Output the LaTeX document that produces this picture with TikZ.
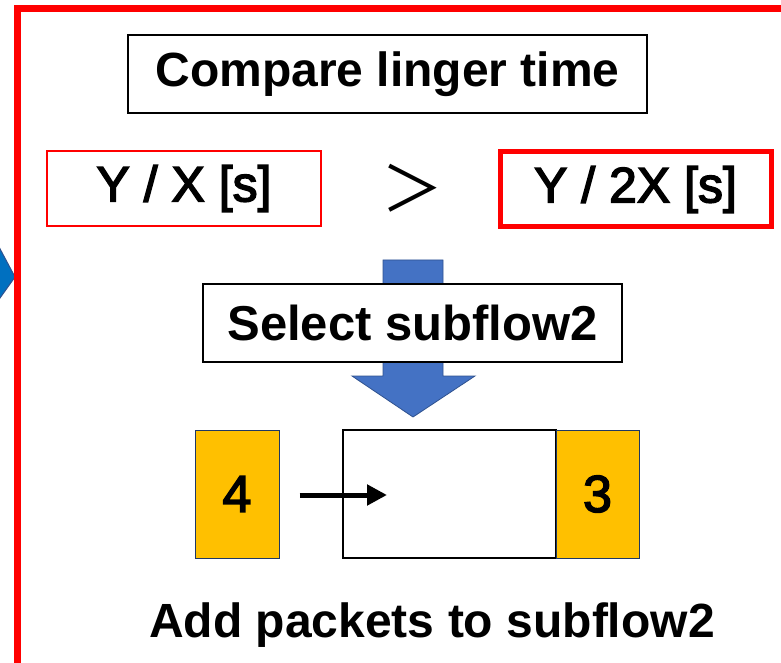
\documentclass[tikz,border=0pt]{standalone}
\usepackage{fontspec}
\setmainfont{Liberation Sans}
\newfontfamily\medfont[FakeBold=3]{Liberation Sans}
\newfontfamily\cjkfont{Noto Sans CJK JP}
\usetikzlibrary{arrows.meta}
\definecolor{frameRed}{HTML}{FF0000}
\definecolor{arrowBlue}{HTML}{4472C4}
\definecolor{arrowEdge}{HTML}{2F528F}
\definecolor{chevBlue}{HTML}{0070C0}
\definecolor{pktOrange}{HTML}{FFC000}
\definecolor{pktEdge}{HTML}{1F3864}
\tikzset{
  txtbox/.style={draw=black, line width=1.5pt, fill=white, inner sep=0pt},
  redthin/.style={draw=frameRed, line width=1.5pt, fill=white, inner sep=0pt},
  redthick/.style={draw=frameRed, line width=5pt, fill=white, inner sep=0pt},
  pkt/.style={draw=pktEdge, line width=1pt, fill=pktOrange, inner sep=0pt, minimum width=84pt, minimum height=128pt, font=\medfont\fontsize{52}{60}\selectfont},
  queue/.style={draw=black, line width=1.5pt, fill=white, inner sep=0pt, minimum width=213pt, minimum height=128pt},
  bigtxt/.style={font=\fontsize{48}{56}\selectfont\bfseries},
  midtxt/.style={font=\medfont\fontsize{50}{58}\selectfont},
}
\begin{document}
\begin{tikzpicture}[x=1pt,y=1pt]
\useasboundingbox (0,0) rectangle (781,662);
\begin{scope}
\clip (0,0) rectangle (781,662);
% blue chevron tip at left, behind frame
\path[fill=chevBlue, draw=arrowEdge, line width=1pt] (-10,432) -- (15,385) -- (-10,350) -- cycle;
% red outer frame
\draw[frameRed, line width=7pt] (17,-10) -- (17,653) -- (800,653);
\end{scope}

% blue down arrow (behind Select box)
\path[fill=arrowBlue, draw=arrowEdge, line width=0.8pt]
  (383,402) -- (443,402) -- (443,286) -- (475,286) -- (413,245) -- (352,286) -- (383,286) -- cycle;

\node[txtbox, minimum width=519pt, minimum height=78pt, bigtxt] (title) at (387.5,588) {Compare linger time};
\node[redthin, minimum width=274pt, minimum height=75pt, midtxt] (yx) at (184,473.5) {Y / X [s]};
\node[font=\cjkfont\fontsize{62}{70}\selectfont, inner sep=0pt] (gt) at (412,474) {＞};
\node[redthick, minimum width=271pt, minimum height=75pt, midtxt] (y2x) at (635.5,472.5) {Y / 2X [s]};
\node[txtbox, minimum width=419pt, minimum height=78pt, bigtxt, font=\fontsize{49}{56}\selectfont\bfseries] (sel) at (412.5,339) {Select subflow2};

\node[pkt] (p4) at (237,168) {4};
\node[queue] (q) at (449.5,168) {};
\node[pkt, minimum width=83pt] (p3) at (597.5,168) {3};
\coordinate (arrEnd) at (387,167);
\draw[line width=5pt, -{Triangle[length=20pt,width=20pt]}] ([xshift=20pt,yshift=-1pt]p4.east) -- (arrEnd);

\node[bigtxt, inner sep=0pt, anchor=base] (add) at (432,25) {Add packets to subflow2};
\end{tikzpicture}
\end{document}
